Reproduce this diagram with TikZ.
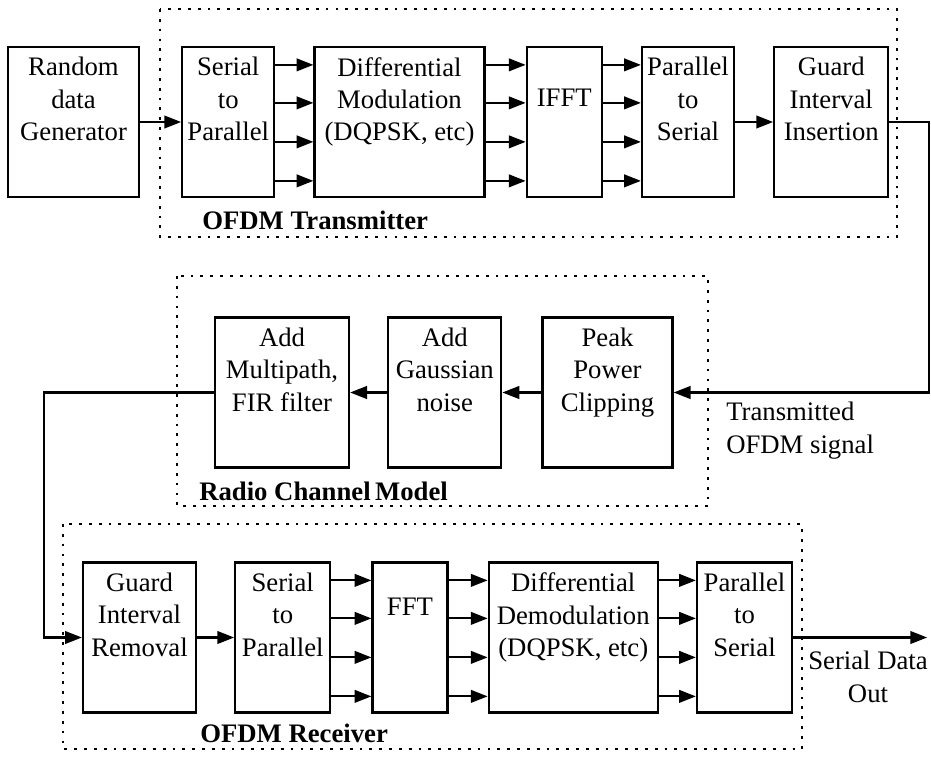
\documentclass[tikz,border=0pt]{standalone}
\usepackage{fontspec}
\setmainfont{Liberation Serif}
\usetikzlibrary{arrows.meta, positioning}

\begin{document}
\begin{tikzpicture}[>={Triangle[length=12pt,width=9pt]},
    blk/.style={draw, line width=1.6pt, minimum height=3.75cm, inner sep=0pt},
    lbl/.style={anchor=north, align=center, inner sep=0pt, yshift=-8pt,
                font=\fontsize{19}{23}\selectfont},
    txt/.style={inner sep=0pt, font=\fontsize{19}{23}\selectfont},
    ttl/.style={anchor=west, inner sep=0pt, font=\fontsize{19}{23}\selectfont\bfseries},
    grp/.style={draw, line width=1.4pt, dash pattern=on 2pt off 5pt},
    arr/.style={->, line width=1.5pt}]
  \useasboundingbox (0,0) rectangle (23.275,-18.975);

  \node[blk, minimum width=3.275cm,
        label={[lbl]north:{Random\\data\\Generator}}] (rdg) at (1.8375,-3.05) {};
  \node[blk, minimum width=2.3cm, right=1.025cm of rdg,
        label={[lbl]north:{Serial\\to\\Parallel}}] (sp1) {};
  \node[blk, minimum width=4.25cm, right=0.95cm of sp1,
        label={[lbl]north:{Differential\\Modulation\\(DQPSK, etc)}}] (dm) {};
  \node[blk, minimum width=1.875cm, right=1cm of dm,
        label={[lbl, yshift=-22.6pt]north:IFFT}] (ifft) {};
  \node[blk, minimum width=2.3cm, right=0.95cm of ifft,
        label={[lbl]north:{Parallel\\to\\Serial}}] (ps1) {};
  \node[blk, minimum width=2.85cm, right=0.95cm of ps1,
        label={[lbl]north:{Guard\\Interval\\Insertion}}] (gii) {};

  \node[blk, minimum width=3.35cm,
        label={[lbl]north:{Add\\Multipath,\\FIR filter}}] (mfir) at (7.05,-9.8125) {};
  \node[blk, minimum width=2.825cm, right=0.925cm of mfir,
        label={[lbl]north:{Add\\Gaussian\\noise}}] (gau) {};
  \node[blk, minimum width=3.25cm, right=0.975cm of gau,
        label={[lbl]north:{Peak\\Power\\Clipping}}] (ppc) {};

  \node[blk, minimum width=2.825cm,
        label={[lbl]north:{Guard\\Interval\\Removal}}] (gir) at (3.4875,-15.9375) {};
  \node[blk, minimum width=2.375cm, right=0.925cm of gir,
        label={[lbl]north:{Serial\\to\\Parallel}}] (sp2) {};
  \node[blk, minimum width=1.875cm, right=1cm of sp2,
        label={[lbl, yshift=-17.6pt]north:FFT}] (fft) {};
  \node[blk, minimum width=4.225cm, right=0.975cm of fft,
        label={[lbl]north:{Differential\\Demodulation\\(DQPSK, etc)}}] (dd) {};
  \node[blk, minimum width=2.375cm, right=0.925cm of dd,
        label={[lbl]north:{Parallel\\to\\Serial}}] (ps2) {};
  \coordinate[right=3.35cm of ps2] (sdo-end);

  \draw[arr] (rdg) -- (sp1);
  \draw[arr] (ps1) -- (gii);
  \draw[arr] (gii.east) -- ++(1cm,0) |- (ppc.east);
  \draw[arr] (ppc) -- (gau);
  \draw[arr] (gau) -- (mfir);
  \draw[arr] (mfir.west) -- ++(-4.25cm,0) |- (gir.west);
  \draw[arr] (gir) -- (sp2);
  \draw[arr] (ps2) -- (sdo-end);
  \foreach \dy in {0.475,1.425,2.4,3.375} {
    \draw[arr] ([yshift=-\dy cm]sp1.north east) -- ([yshift=-\dy cm]dm.north west);
    \draw[arr] ([yshift=-\dy cm]dm.north east) -- ([yshift=-\dy cm]ifft.north west);
    \draw[arr] ([yshift=-\dy cm]ifft.north east) -- ([yshift=-\dy cm]ps1.north west);
    \draw[arr] ([yshift=-\dy cm]sp2.north east) -- ([yshift=-\dy cm]fft.north west);
    \draw[arr] ([yshift=-\dy cm]fft.north east) -- ([yshift=-\dy cm]dd.north west);
    \draw[arr] ([yshift=-\dy cm]dd.north east) -- ([yshift=-\dy cm]ps2.north west);
  }

  \node[txt, anchor=north west, align=left] (txsig) at (18.15,-10.05)
    {Transmitted\\OFDM signal};
  \node[txt, anchor=north, align=center] (sdo) at (21.7,-16.275)
    {Serial Data\\Out};

  \draw[grp] (4.0,-0.225) rectangle (22.425,-5.925);
  \node[ttl] (txttl) at (5.05,-5.5) {OFDM Transmitter};
  \draw[grp] (4.425,-6.9) rectangle (17.7,-12.65);
  \node[ttl] (chttl) at (4.975,-12.275) {Radio Channel\,Model};
  \draw[grp] (1.575,-13.1) rectangle (20.05,-18.725);
  \node[ttl] (rxttl) at (5.0,-18.325) {OFDM Receiver};
\end{tikzpicture}
\end{document}
